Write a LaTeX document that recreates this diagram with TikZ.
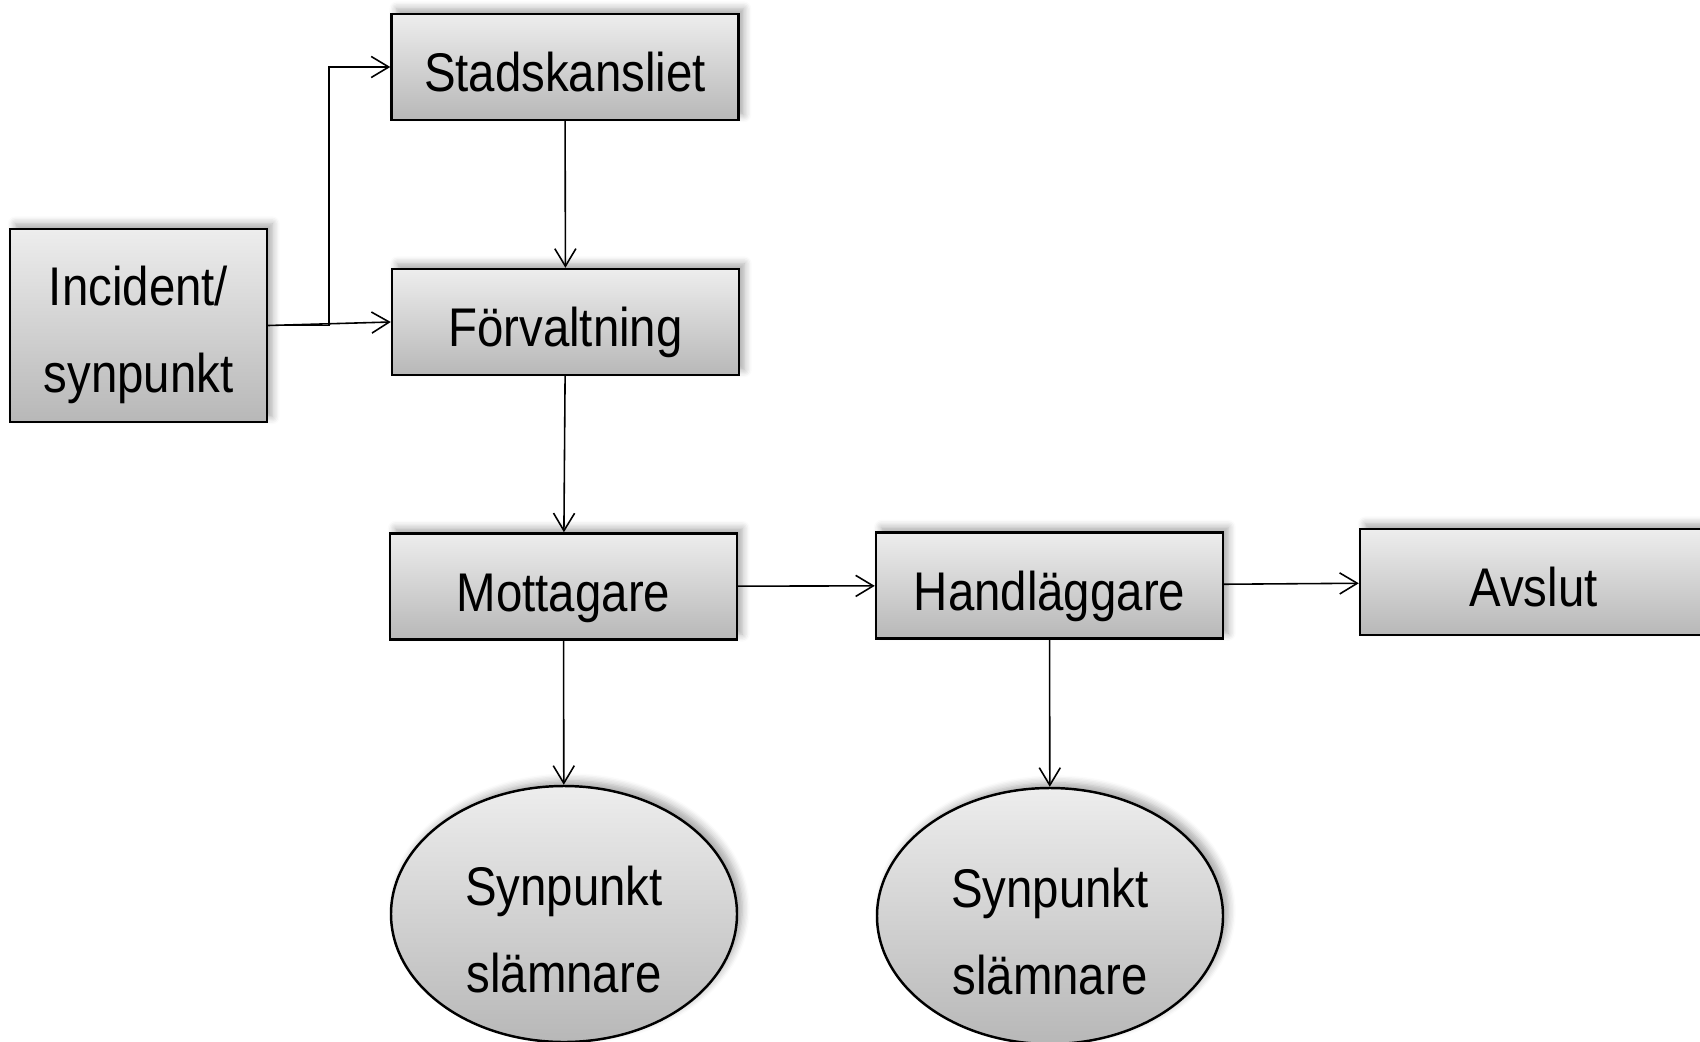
\documentclass[tikz,border=0pt]{standalone}
\usepackage{fontspec}
\setmainfont{Liberation Sans}[FakeStretch=0.87]
\usetikzlibrary{arrows.meta,shapes.geometric,shadows.blur}

\tikzset{
  box/.style = {draw, line width=0.7pt, rectangle, inner sep=0pt,
    minimum width=3.47cm, minimum height=1.06cm,
    top color=black!7, bottom color=black!28,
    blur shadow={shadow xshift=1.5pt, shadow yshift=1.5pt, shadow blur steps=6, shadow opacity=35},
    align=center, font=\fontsize{15.5}{24.7}\selectfont,
    text height=14pt, text depth=0pt},
  oval/.style = {box, ellipse, minimum width=3.46cm, minimum height=2.56cm, text height=44.5pt},
  link/.style = {-{Straight Barb[length=5pt,width=6pt]}, line width=0.45pt}
}

\begin{document}
\begin{tikzpicture}
\useasboundingbox (0,0) rectangle (17,-10.42);
% boxes
\node[box, minimum width=2.57cm, minimum height=1.93cm, text height=38.2pt] (incident) at (1.385,-3.255) {Incident/\\synpunkt};
\node[box] (stads) at (5.65,-0.67) {Stadskansliet};
\node[box] (forv) at (5.655,-3.22) {Förvaltning};
\node[box] (mott) at (5.635,-5.865) {Mottagare};
\node[box] (handl) at (10.495,-5.855) {Handläggare};
\node[box] (avslut) at (15.335,-5.82) {Avslut};
% ovals
\node[oval] (synp1) at (5.64,-9.14) {Synpunkt\\slämnare};
\node[oval] (synp2) at (10.50,-9.16) {Synpunkt\\slämnare};
% arrows
\draw[link] (incident.east) -- ++(0.61,0) |- (stads.west);
\draw[link] (incident.east) -- (forv.west);
\draw[link] (stads) -- (forv);
\draw[link] (forv) -- (mott);
\draw[link] (mott) -- (handl);
\draw[link] (handl) -- (avslut);
\draw[link] (mott) -- (synp1);
\draw[link] (handl) -- (synp2);
\end{tikzpicture}
\end{document}
